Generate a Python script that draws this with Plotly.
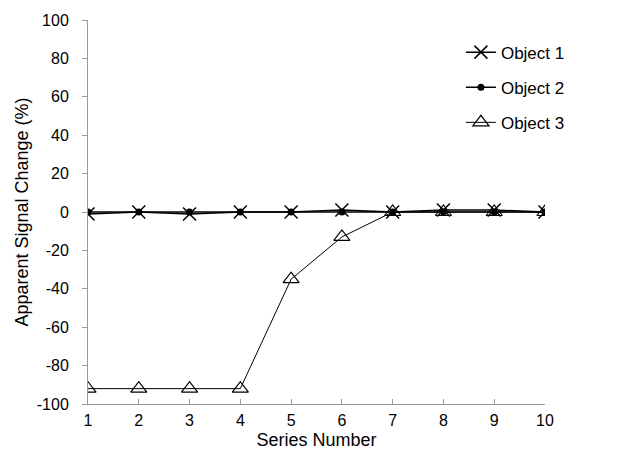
import plotly.graph_objects as go

series_number = [1, 2, 3, 4, 5, 6, 7, 8, 9, 10]
object1 = [-1, 0, -1, 0, 0, 1, 0, 1, 1, 0]
object2 = [0, 0, 0, 0, 0, 0, 0, 0, 0, 0]
object3 = [-92, -92, -92, -92, -35, -13, 0, 0, 0, 0]
y_ticks = [100, 80, 60, 40, 20, 0, -20, -40, -60, -80, -100]
y_tick_labels = ["100", "80", "60", "40", "20", "0", "-20", "-40", "-60", "-80", "-100"]

fig = go.Figure()
fig.add_trace(go.Scatter(
    x=series_number, y=object1, name="Object 1", mode="lines+markers",
    legendgroup="g1",
    line=dict(color="black", width=1.5),
    marker=dict(symbol="x-thin-open", size=13, color="black", line=dict(color="black", width=1.5)),
))
fig.add_trace(go.Scatter(
    x=series_number, y=object2, name="Object 2", mode="lines+markers",
    legendgroup="g2",
    line=dict(color="black", width=1.5),
    marker=dict(symbol="circle", size=7, color="black"),
))
fig.add_trace(go.Scatter(
    x=series_number, y=object3, name="Object 3", mode="lines+markers",
    legendgroup="g3",
    line=dict(color="black", width=1),
    marker=dict(symbol="triangle-up-open", size=14, color="black", line=dict(color="black", width=1.2)),
))

fig.update_layout(
    width=631, height=459,
    margin=dict(l=88, r=86, t=14, b=55),
    paper_bgcolor="white", plot_bgcolor="white",
    font=dict(family="Liberation Sans, Arial, sans-serif", size=15, color="black"),
    legend=dict(x=0.816, y=0.962, xanchor="left", yanchor="top",
                tracegroupgap=10, bgcolor="rgba(0,0,0,0)",
                font=dict(size=17)),
    xaxis=dict(range=[1, 10], tickvals=series_number, showline=True, linecolor="#999999",
               ticks="inside", ticklen=5, tickcolor="#999999", showgrid=False, zeroline=False,
               ticklabelstandoff=2, tickfont=dict(size=16),
               title=dict(text="Series Number", standoff=5)),
    yaxis=dict(range=[-100, 100], tickvals=y_ticks, ticktext=y_tick_labels,
               showline=True, linecolor="#999999",
               ticks="outside", ticklen=5, tickcolor="#999999", showgrid=False, zeroline=False,
               ticklabelstandoff=10, tickfont=dict(size=16),
               title=dict(text="Apparent Signal Change (%)", standoff=3)),
)

fig.write_html("out.html")
